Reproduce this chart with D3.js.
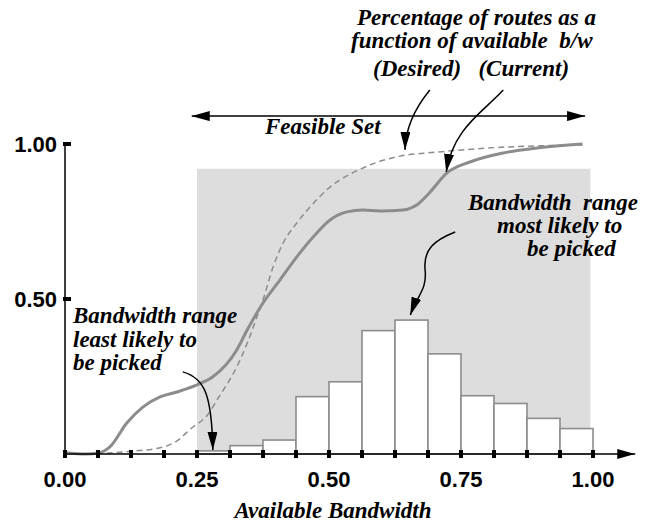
<!DOCTYPE html>
<html>
<head>
<meta charset="utf-8">
<script src="https://d3js.org/d3.v7.min.js"></script>
<style>
  body { margin: 0; background: #fff; }
  .tick-label { font-family: "Liberation Sans", Arial, Helvetica, sans-serif; font-weight: bold; font-size: 22px; }
  .note { font-family: "Liberation Serif", "Times New Roman", serif; font-weight: bold; font-style: italic; font-size: 23px; }
</style>
</head>
<body>
<div id="chart"></div>
<script>
// x ticks (every 1/16) and labelled ticks
var xTickValues = [0, 0.0625, 0.125, 0.1875, 0.25, 0.3125, 0.375, 0.4375, 0.5, 0.5625, 0.625, 0.6875, 0.75, 0.8125, 0.875, 0.9375, 1];
var xLabelValues = [0, 0.25, 0.5, 0.75, 1];
var xLabels = ["0.00", "0.25", "0.50", "0.75", "1.00"];
var yLabelValues = [1, 0.5];
var yLabels = ["1.00", "0.50"];

// histogram of chosen routes
var binStart = [0.25, 0.3125, 0.375, 0.4375, 0.5, 0.5625, 0.625, 0.6875, 0.75, 0.8125, 0.875, 0.9375];
var binHeight = [0.01, 0.027, 0.045, 0.185, 0.233, 0.398, 0.432, 0.323, 0.188, 0.163, 0.115, 0.082];
var binWidth = 0.0625;

// feasible set (shaded)
var feasibleX = [0.25, 0.995];
var feasibleTop = 0.92;

// percentage of routes as a function of available b/w
var currentX = [0, 0.04, 0.0625, 0.085, 0.117, 0.148, 0.18, 0.212, 0.25, 0.28, 0.325, 0.345, 0.375, 0.407, 0.439, 0.47, 0.502, 0.534, 0.565, 0.597, 0.64, 0.666, 0.69, 0.723, 0.767, 0.83, 0.894, 0.98];
var currentY = [0.004, 0, 0.003, 0.023, 0.1, 0.152, 0.184, 0.2, 0.223, 0.249, 0.335, 0.4, 0.487, 0.561, 0.636, 0.7, 0.755, 0.781, 0.787, 0.784, 0.787, 0.803, 0.842, 0.906, 0.942, 0.971, 0.987, 1.0];
var desiredX = [0.06, 0.12, 0.18, 0.21, 0.24, 0.27, 0.29, 0.325, 0.345, 0.363, 0.375, 0.394, 0.413, 0.439, 0.464, 0.502, 0.565, 0.648, 0.685, 0.8, 0.98];
var desiredY = [0, 0.008, 0.02, 0.04, 0.084, 0.126, 0.18, 0.28, 0.357, 0.44, 0.497, 0.603, 0.68, 0.745, 0.797, 0.861, 0.923, 0.965, 0.971, 0.987, 0.997];

var w = 649, h = 524;
var x = d3.scaleLinear().domain([0, 1]).range([65, 593]),
    y = d3.scaleLinear().domain([0, 1]).range([454, 144]);

var svg = d3.select("#chart").append("svg")
    .attr("width", w)
    .attr("height", h);

var defs = svg.append("defs");
function arrowMarker(id, len, half) {
  defs.append("marker")
      .attr("id", id)
      .attr("markerUnits", "userSpaceOnUse")
      .attr("viewBox", "0 0 " + len + " " + (half * 2))
      .attr("refX", len)
      .attr("refY", half)
      .attr("markerWidth", len)
      .attr("markerHeight", half * 2)
      .attr("orient", "auto-start-reverse")
      .append("path")
      .attr("d", "M0,0L" + len + "," + half + "L0," + (half * 2) + "Z")
      .attr("fill", "#000");
}
arrowMarker("head", 18, 5);
arrowMarker("axisHead", 18, 5);

// shaded feasible region
svg.append("rect")
    .attr("x", x(feasibleX[0]))
    .attr("y", y(feasibleTop))
    .attr("width", x(feasibleX[1]) - x(feasibleX[0]))
    .attr("height", y(0) - y(feasibleTop))
    .attr("fill", "#dddddd");

// histogram bars
svg.append("g").selectAll("rect")
    .data(binStart)
    .enter().append("rect")
    .attr("x", function(d) { return x(d); })
    .attr("y", function(d, i) { return y(binHeight[i]); })
    .attr("width", x(binWidth) - x(0))
    .attr("height", function(d, i) { return y(0) - y(binHeight[i]); })
    .attr("fill", "#fff")
    .attr("stroke", "#8c8c8c")
    .attr("stroke-width", 1.6);

// curves
var line = d3.line()
    .x(function(d) { return x(d[0]); })
    .y(function(d) { return y(d[1]); })
    .curve(d3.curveMonotoneX);

svg.append("path")
    .attr("d", line(desiredX.map(function(v, i) { return [v, desiredY[i]]; })))
    .attr("fill", "none")
    .attr("stroke", "#8c8c8c")
    .attr("stroke-width", 1.5)
    .attr("stroke-dasharray", "6,4");

svg.append("path")
    .attr("d", line(currentX.map(function(v, i) { return [v, currentY[i]]; })))
    .attr("fill", "none")
    .attr("stroke", "#8c8c8c")
    .attr("stroke-width", 3);

// axes
svg.append("line")
    .attr("x1", x(0)).attr("x2", x(1.08))
    .attr("y1", y(0)).attr("y2", y(0))
    .attr("stroke", "#000").attr("stroke-width", 1.5)
    .attr("marker-end", "url(#axisHead)");

svg.append("line")
    .attr("x1", x(0)).attr("x2", x(0))
    .attr("y1", y(0)).attr("y2", y(1))
    .attr("stroke", "#000").attr("stroke-width", 1.5);

svg.append("g").selectAll("rect")
    .data(xTickValues)
    .enter().append("rect")
    .attr("x", function(d) { return x(d) - 2; })
    .attr("y", y(0) - 4)
    .attr("width", 4)
    .attr("height", 8)
    .attr("fill", "#000");

svg.append("g").selectAll("rect")
    .data(yLabelValues)
    .enter().append("rect")
    .attr("x", x(0) - 2)
    .attr("y", function(d) { return y(d) - 2; })
    .attr("width", 8)
    .attr("height", 4)
    .attr("fill", "#000");

svg.append("g").selectAll("text")
    .data(xLabelValues)
    .enter().append("text")
    .attr("class", "tick-label")
    .attr("text-anchor", "middle")
    .attr("x", function(d) { return x(d); })
    .attr("y", 487)
    .text(function(d, i) { return xLabels[i]; });

svg.append("g").selectAll("text")
    .data(yLabelValues)
    .enter().append("text")
    .attr("class", "tick-label")
    .attr("text-anchor", "end")
    .attr("x", x(0) - 8)
    .attr("y", function(d) { return y(d) + 8; })
    .text(function(d, i) { return yLabels[i]; });

svg.append("text")
    .attr("class", "note")
    .attr("text-anchor", "middle")
    .attr("x", 333)
    .attr("y", 518)
    .text("Available Bandwidth");

// feasible set double arrow
svg.append("line")
    .attr("x1", x(0.24)).attr("x2", x(0.985))
    .attr("y1", y(1.09)).attr("y2", y(1.09))
    .attr("stroke", "#000").attr("stroke-width", 1.5)
    .attr("marker-start", "url(#head)")
    .attr("marker-end", "url(#head)");

svg.append("text")
    .attr("class", "note")
    .attr("x", 265)
    .attr("y", 134)
    .text("Feasible Set");

// top annotation
svg.append("text").attr("class", "note").attr("x", 357).attr("y", 25).text("Percentage of routes as a");
svg.append("text").attr("class", "note").attr("x", 351).attr("y", 48).attr("xml:space", "preserve").text("function of available  b/w");
svg.append("text").attr("class", "note").attr("x", 373).attr("y", 76).attr("xml:space", "preserve").text("(Desired)   (Current)");

// lower annotations
var least = ["Bandwidth range", "least likely to", "be picked"];
svg.append("g").selectAll("text")
    .data(least)
    .enter().append("text")
    .attr("class", "note")
    .attr("x", 73)
    .attr("y", function(d, i) { return 323 + i * 23.5; })
    .text(function(d) { return d; });

var most = ["Bandwidth  range", "most likely to", "be picked"];
var mostX = [468, 497, 527];
svg.append("g").selectAll("text")
    .data(most)
    .enter().append("text")
    .attr("class", "note")
    .attr("xml:space", "preserve")
    .attr("x", function(d, i) { return mostX[i]; })
    .attr("y", function(d, i) { return 210 + i * 23; })
    .text(function(d) { return d; });

// leader arrows, in data units
function leader(pts) {
  var p = pts.map(function(d) { return [x(d[0]), y(d[1])]; });
  var s = "M" + p[0];
  for (var i = 1; i + 2 < p.length + 1; i += 3) {
    s += "C" + p[i] + " " + p[i + 1] + " " + p[i + 2];
  }
  svg.append("path")
      .attr("d", s)
      .attr("fill", "none")
      .attr("stroke", "#000")
      .attr("stroke-width", 1.5)
      .attr("marker-end", "url(#head)");
}
leader([[0.691, 1.174], [0.665, 1.12], [0.645, 1.06], [0.644, 0.981]]);
leader([[0.83, 1.174], [0.79, 1.1], [0.735, 1.05], [0.722, 0.91]]);
leader([[0.223, 0.265], [0.265, 0.245], [0.278, 0.19], [0.28, 0.013]]);
leader([[0.739, 0.716], [0.7, 0.69], [0.678, 0.66], [0.682, 0.594], [0.686, 0.53], [0.668, 0.515], [0.654, 0.448]]);
</script>
</body>
</html>
